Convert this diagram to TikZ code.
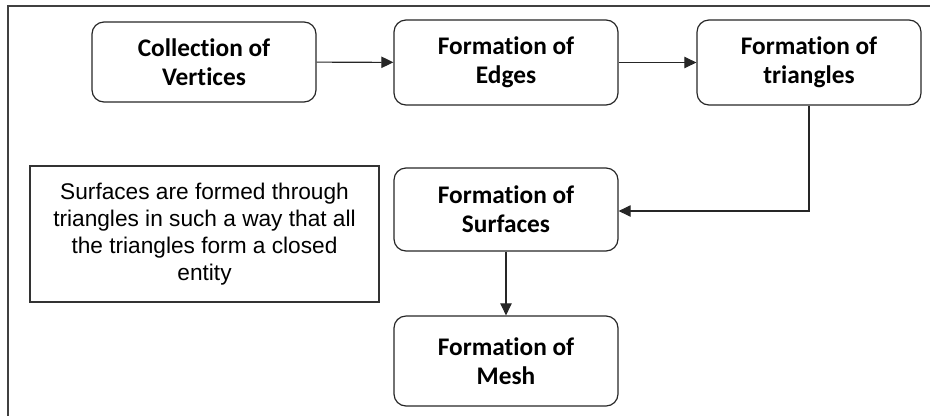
\documentclass[tikz,border=0pt]{standalone}
\usepackage{fontspec}
\setmainfont{Liberation Sans}
\newfontfamily\calib[Ligatures=NoCommon]{Carlito}
\usetikzlibrary{arrows.meta}
\begin{document}
\begin{tikzpicture}[x=0.75pt,y=-0.75pt,
  stepbox/.style={draw=black!85, line width=0.9pt, rounded corners=9pt,
    minimum width=168pt, align=center, inner sep=0pt,
    font=\calib\bfseries\fontsize{19}{21.75}\selectfont},
  notebox/.style={draw=black!80, line width=0.9pt, minimum width=261.75pt,
    minimum height=102pt, align=center, inner sep=0pt,
    font=\fontsize{17}{20.25}\selectfont},
  flow/.style={draw=black!85, line width=0.8pt,
    -{Triangle[length=9pt,width=8.5pt]}}]
\useasboundingbox (0,0) rectangle (930,415);
% outer frame, open to the right and bottom
\draw[black!75, line width=1.2pt] (8,416) -- (8,6) -- (931,6);

\node[stepbox, minimum height=60pt]    (vert) at (204,62)   {Collection of\\Vertices};
\node[stepbox, minimum height=63.75pt] (edge) at (506,62.5) {Formation of\\Edges};
\node[stepbox, minimum height=63.75pt] (tri)  at (809,62.5) {Formation of\\triangles};
\node[stepbox, minimum height=62.25pt] (surf) at (506,209.5) {Formation of\\Surfaces};
\node[stepbox, minimum height=67.5pt]  (mesh) at (506,361)  {Formation of\\Mesh};

\node[notebox] (note) at (204.5,234) {Surfaces are formed through\\triangles in such a way that all\\the triangles form a closed\\entity};

\draw[flow] (vert) -- (edge);
\draw[flow] (edge) -- (tri);
\draw[flow] (tri.south) |- (surf.east |- 0,211);
\draw[flow] (surf) -- (mesh);
\end{tikzpicture}
\end{document}
